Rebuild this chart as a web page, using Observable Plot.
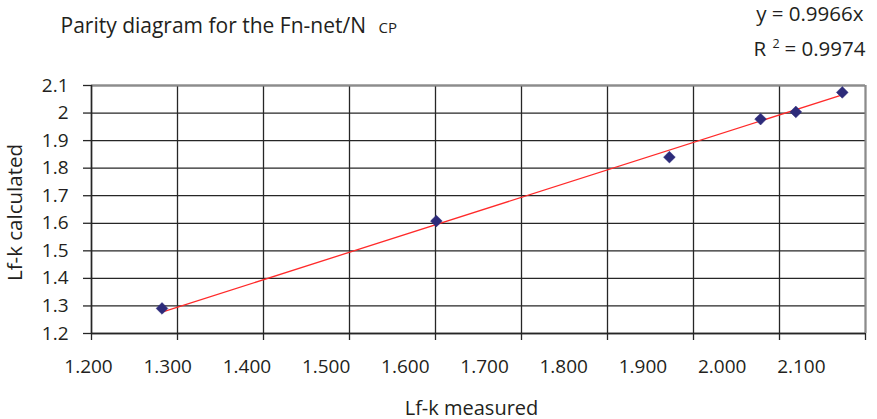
<!DOCTYPE html>
<html>
<head>
<meta charset="utf-8">
<script src="https://cdn.jsdelivr.net/npm/d3@7"></script>
<script src="https://cdn.jsdelivr.net/npm/@observablehq/plot@0.6"></script>
<style>
  html, body { margin: 0; padding: 0; background: #fff; }
  #chart { width: 877px; height: 419px; }
</style>
</head>
<body>
<div id="chart"></div>
<script>
// ---- data ----
const lfkMeasured   = [1.282, 1.601, 1.872, 1.978, 2.019, 2.073];
const lfkCalculated = [1.291, 1.608, 1.840, 1.978, 2.004, 2.075];

const xTicks      = [1.2, 1.3, 1.4, 1.5, 1.6, 1.7, 1.8, 1.9, 2.0, 2.1];
const xTickLabels = ["1.200", "1.300", "1.400", "1.500", "1.600", "1.700", "1.800", "1.900", "2.000", "2.100"];
const yTicks      = [1.2, 1.3, 1.4, 1.5, 1.6, 1.7, 1.8, 1.9, 2.0, 2.1];
const yTickLabels = ["1.2", "1.3", "1.4", "1.5", "1.6", "1.7", "1.8", "1.9", "2", "2.1"];

const trendSlope = 0.9966;
const trendR2 = "0.9974";

const titleMain = "Parity diagram for the Fn-net/N";
const titleSub = "CP";
const xTitle = "Lf-k measured";
const yTitle = "Lf-k calculated";

// ---- derived tables ----
const points = lfkMeasured.map((x, i) => ({x, y: lfkCalculated[i]}));
const [xMin, xMax] = d3.extent(lfkMeasured);
const trend = [xMin, xMax].map(x => ({x, y: trendSlope * x}));

// in the reference the x tick labels sit on a slightly compressed spacing
const LABEL_SCALE = 0.921, LABEL_SHIFT = -0.0035;
const xLabelRows = xTicks.map((v, i) => ({x: xTicks[0] + (v - xTicks[0]) * LABEL_SCALE + LABEL_SHIFT, label: xTickLabels[i]}));

const ink = "#231f20";
const gridInk = "#262626";
const frameGray = "#8c8c8c";

const chart = Plot.plot({
  width: 877,
  height: 419,
  marginLeft: 91,
  marginRight: 12,
  marginTop: 85,
  marginBottom: 86,
  style: {fontFamily: "'Open Sans', sans-serif", fontSize: "18px", color: ink, background: "#fff", overflow: "visible"},
  x: {domain: [1.2, 2.1]},
  y: {domain: [1.2, 2.1]},
  marks: [
    Plot.gridX(xTicks, {stroke: gridInk, strokeOpacity: 1, strokeWidth: 1.3}),
    Plot.gridY(yTicks, {stroke: gridInk, strokeOpacity: 1, strokeWidth: 1.3}),
    Plot.ruleY([2.1], {stroke: frameGray, strokeWidth: 2}),
    Plot.ruleX([2.1], {stroke: frameGray, strokeWidth: 2}),
    Plot.ruleX([1.2], {stroke: gridInk, strokeWidth: 1.5}),
    Plot.ruleY([1.2], {stroke: gridInk, strokeWidth: 1.5}),
    Plot.axisY(yTicks, {
      tickSize: 8, tickPadding: 15, stroke: gridInk, strokeWidth: 1.3,
      tickFormat: d => yTickLabels[yTicks.indexOf(d)],
      fontSize: 19, fill: ink, label: null
    }),
    Plot.axisX(xTicks, {tickSize: 7, stroke: gridInk, strokeWidth: 1.3, tickFormat: () => "", label: null}),
    Plot.text(xLabelRows, {x: "x", text: "label", frameAnchor: "bottom", lineAnchor: "middle", dy: 33.5, fontSize: 19, fill: ink}),
    Plot.text([xTitle], {frameAnchor: "bottom", textAnchor: "middle", lineAnchor: "bottom", dx: -7, dy: 81, fontSize: 20, fill: ink}),
    Plot.text([yTitle], {frameAnchor: "left", textAnchor: "middle", rotate: -90, lineAnchor: "middle", dx: -76, dy: 3, fontSize: 20.5, fill: ink}),
    Plot.line(trend, {x: "x", y: "y", stroke: "#ff2a2a", strokeWidth: 1.3}),
    Plot.dot(points, {x: "x", y: "y", symbol: "diamond2", r: 5.3, fill: "#2d2b7a", stroke: "#2d2b7a", strokeWidth: 0.5}),
    Plot.text([titleMain], {frameAnchor: "top-left", textAnchor: "start", lineAnchor: "bottom", dx: -31, dy: -53, fontSize: 21, fill: ink}),
    Plot.text([titleSub], {frameAnchor: "top-left", textAnchor: "start", lineAnchor: "bottom", dx: 287, dy: -53, fontSize: 15, fill: ink}),
    Plot.text([`y = ${trendSlope}x`], {frameAnchor: "top-right", textAnchor: "end", lineAnchor: "bottom", dx: -2, dy: -65, fontSize: 20.5, fill: ink}),
    Plot.text(["R"], {frameAnchor: "top-right", textAnchor: "start", lineAnchor: "bottom", dx: -112, dy: -30, fontSize: 20.5, fill: ink}),
    Plot.text(["2"], {frameAnchor: "top-right", textAnchor: "start", lineAnchor: "bottom", dx: -93, dy: -38, fontSize: 12.5, fill: ink}),
    Plot.text([`= ${trendR2}`], {frameAnchor: "top-right", textAnchor: "end", lineAnchor: "bottom", dx: 0, dy: -30, fontSize: 20.5, fill: ink})
  ]
});
document.getElementById("chart").appendChild(chart);
</script>
</body>
</html>
